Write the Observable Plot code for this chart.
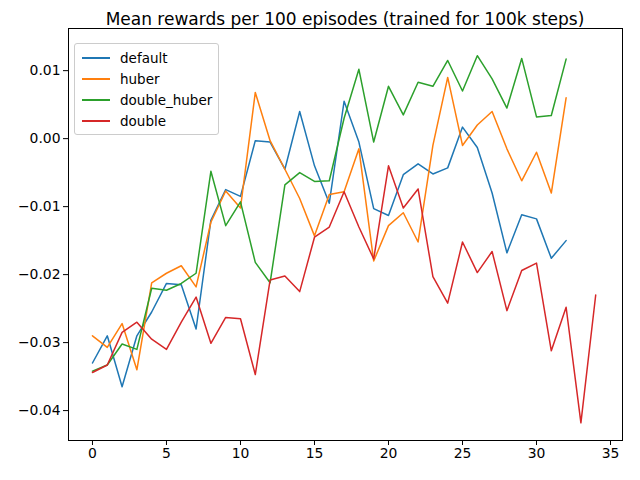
<!DOCTYPE html>
<html><head><meta charset="utf-8">
<script src="https://cdn.jsdelivr.net/npm/d3@7"></script>
<script src="https://cdn.jsdelivr.net/npm/@observablehq/plot@0.6"></script>
<style>
body{margin:0;background:#fff;font-family:"DejaVu Sans",sans-serif}
#wrap{position:relative;width:640px;height:480px}
#title{position:absolute;top:9px;left:68px;width:554px;text-align:center;font-size:17px;color:#000}
#legend{position:absolute;left:74px;top:43px;width:143px;border:1px solid #ccc;border-radius:3px;background:rgba(255,255,255,0.8);padding:3px 0;font-size:13.5px}
#legend div{display:flex;align-items:center;height:21px}
#legend span.l{display:inline-block;width:28px;height:2px;margin:0 10px 0 7px}
</style></head><body>
<div id="wrap"><div id="chart"></div><div id="title">Mean rewards per 100 episodes (trained for 100k steps)</div><div id="legend"></div></div>
<script>
const seriesNames = ['default', 'huber', 'double_huber', 'double']
const colors = ['#1f77b4', '#ff7f0e', '#2ca02c', '#d62728']
const defaultVals = [-0.033, -0.029, -0.0365, -0.029, -0.0255, -0.0213, -0.0215, -0.028, -0.012, -0.0075, -0.0085, -0.0003, -0.0005, -0.0045, 0.004, -0.004, -0.0095, 0.0055, -0.0005, -0.0103, -0.0113, -0.0053, -0.0037, -0.0052, -0.0043, 0.0017, -0.0013, -0.008, -0.0168, -0.0112, -0.0118, -0.0176, -0.015]
const huberVals = [-0.029, -0.0307, -0.0272, -0.034, -0.0212, -0.0198, -0.0187, -0.0218, -0.0123, -0.0077, -0.0102, 0.0068, -0.0003, -0.0045, -0.0088, -0.0143, -0.0082, -0.0078, -0.0015, -0.018, -0.0128, -0.0109, -0.0152, -0.001, 0.009, -0.001, 0.002, 0.004, -0.0015, -0.0062, -0.002, -0.008, 0.006]
const doubleHuberVals = [-0.0342, -0.0333, -0.0302, -0.031, -0.022, -0.0223, -0.0213, -0.0198, -0.0048, -0.0128, -0.0093, -0.0182, -0.0212, -0.0068, -0.005, -0.0063, -0.0062, 0.003, 0.0102, -0.0005, 0.0077, 0.0035, 0.0083, 0.0077, 0.0115, 0.007, 0.0122, 0.0088, 0.0045, 0.0118, 0.0032, 0.0034, 0.0117]
const doubleVals = [-0.0344, -0.0333, -0.0285, -0.027, -0.0295, -0.031, -0.027, -0.0233, -0.0301, -0.0263, -0.0265, -0.0347, -0.0208, -0.0202, -0.0225, -0.0145, -0.013, -0.0078, -0.013, -0.0177, -0.004, -0.0102, -0.0074, -0.0203, -0.0242, -0.0152, -0.0197, -0.0166, -0.0253, -0.0194, -0.0183, -0.0312, -0.0248, -0.0418, -0.023]

const allVals = [defaultVals, huberVals, doubleHuberVals, doubleVals]
const data = allVals.flatMap((vals, s) => vals.map((v, i) => ({step: i, value: v, series: seriesNames[s]})))

let chart = Plot.plot({
  width: 640,
  height: 480,
  marginLeft: 68,
  marginRight: 18,
  marginTop: 28,
  marginBottom: 40,
  style: {fontSize: '13.9px', fontFamily: 'DejaVu Sans', color: '#000'},
  x: {domain: [-1.62, 35.81], ticks: d3.range(0, 36, 5), tickSize: 5, tickPadding: 3, label: null},
  y: {domain: [-0.0444, 0.0162], ticks: [-0.04, -0.03, -0.02, -0.01, 0, 0.01], tickFormat: d3.format('.2f'), tickSize: 5, tickPadding: 3, label: null},
  color: {domain: seriesNames, range: colors},
  marks: [
    Plot.line(data, {x: 'step', y: 'value', z: 'series', stroke: 'series', strokeWidth: 1.5}),
    Plot.frame({stroke: '#000', strokeWidth: 1})
  ]
})
d3.select('#chart').append(() => chart)

const leg = d3.select('#legend')
seriesNames.forEach((n, i) => {
  const row = leg.append('div')
  row.append('span').attr('class', 'l').style('background', colors[i])
  row.append('span').text(n)
})
</script></body></html>
